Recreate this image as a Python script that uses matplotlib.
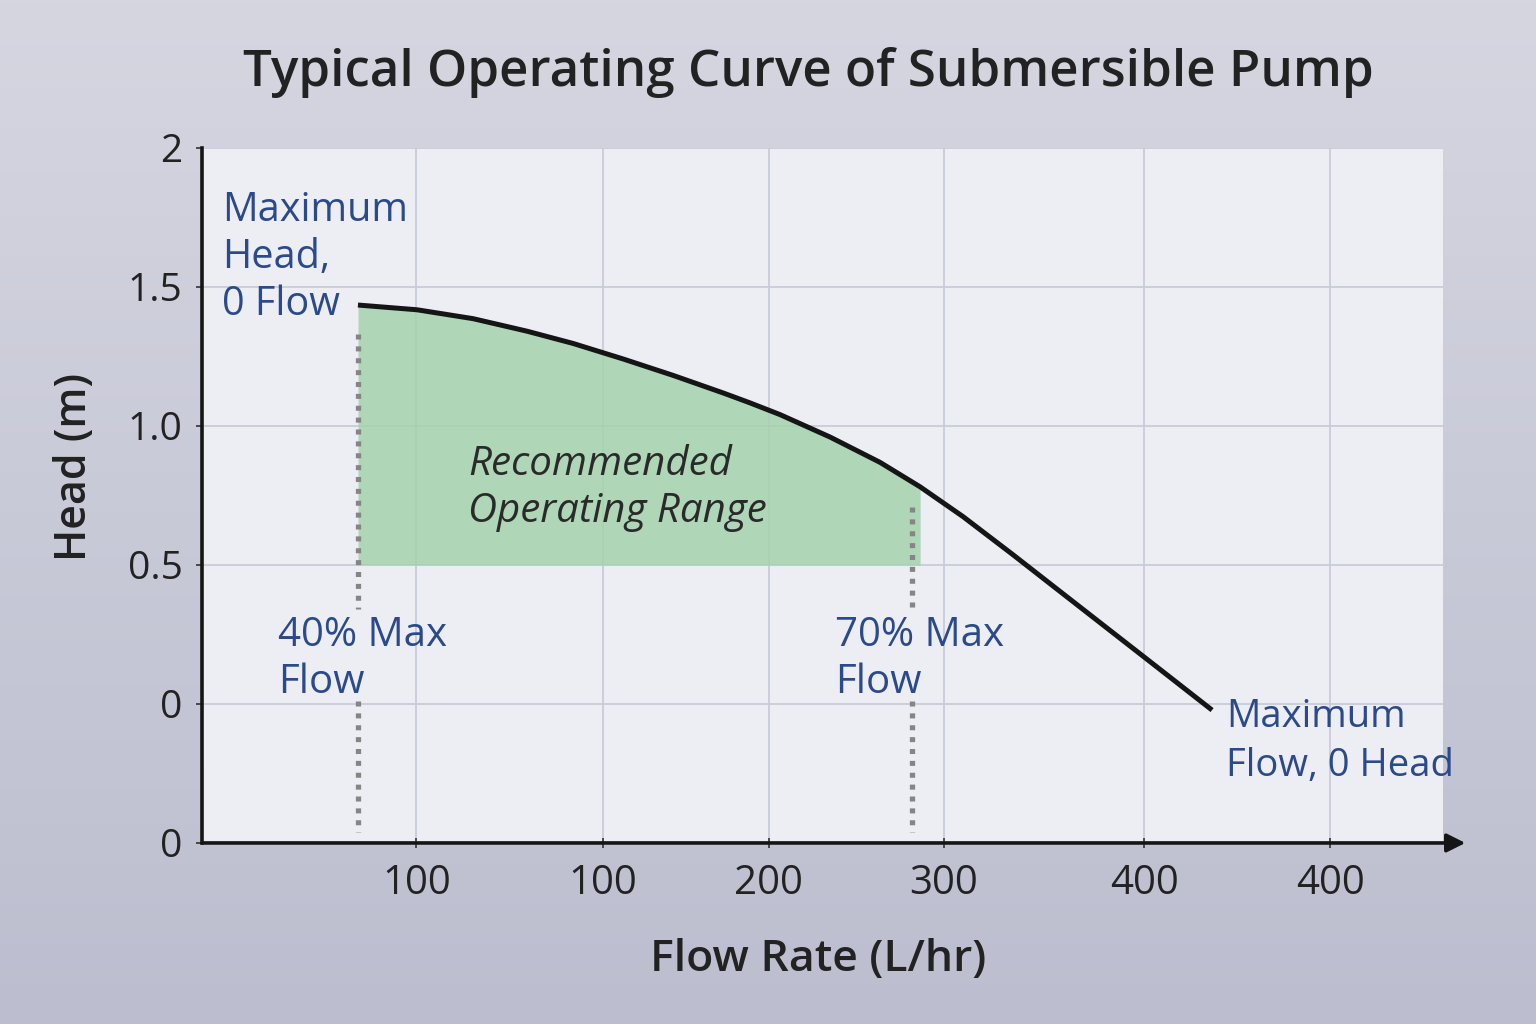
import numpy as np
import matplotlib
matplotlib.use("Agg")
import matplotlib.pyplot as plt

plt.rcParams['font.family'] = ['Open Sans', 'DejaVu Sans']

# chart values (x in the axis' own flow units)
flow_pts = [55.3, 76.2, 96.1, 115.2, 131.5, 149.3, 167.0, 184.7, 194.3, 204.9,
            222.7, 240.4, 254.6, 269.8, 287.5, 305.3, 323.0, 340.7, 358.1]
head_pts = [1.435, 1.418, 1.386, 1.341, 1.297, 1.241, 1.182, 1.119, 1.083, 1.041,
            0.960, 0.869, 0.781, 0.674, 0.537, 0.396, 0.256, 0.116, -0.022]

x_tick_pos = [76, 142, 201, 263, 334, 400]
x_tick_labels = ['100', '100', '200', '300', '400', '400']
y_tick_pos = [-0.5, 0.0, 0.5, 1.0, 1.5, 2.0]
y_tick_labels = ['0', '0', '0.5', '1.0', '1.5', '2']

range_start = 55.3     # 40% max flow
range_end = 251.6      # 70% max flow
range_floor = 0.5

blue = '#2b4a8b'
dark = '#222222'

fig = plt.figure(figsize=(15.36, 10.24), dpi=100)

# background wash
bg = fig.add_axes([0, 0, 1, 1], zorder=-10)
grad = np.linspace(0, 1, 256).reshape(-1, 1)
top_c = np.array([214, 214, 225]) / 255.0
bot_c = np.array([188, 190, 207]) / 255.0
img = top_c[None, None, :] * (1 - grad[:, :, None]) + bot_c[None, None, :] * grad[:, :, None]
bg.imshow(img, aspect='auto', extent=[0, 1, 0, 1])
bg.axis('off')

ax = fig.add_axes([0.1315, 0.1768, 0.808, 0.6787])
ax.set_facecolor('#eceef4')
ax.set_xlim(0, 440)
ax.set_ylim(-0.5, 2.0)

# grid
for xp in x_tick_pos:
    ax.axvline(xp, color='#c8ccd9', lw=1.3, zorder=1)
for yp in y_tick_pos[1:]:
    ax.axhline(yp, color='#c8ccd9', lw=1.3, zorder=1)

# recommended range
n_fill = sum(1 for f in flow_pts if f <= range_end + 4)
ax.fill_between(flow_pts[:n_fill], range_floor, head_pts[:n_fill],
                color='#a3d2ad', alpha=0.85, lw=0, zorder=2)

# dotted markers (broken where the labels sit)
dot_style = dict(color='#858585', lw=3.8, linestyle=(0, (0.95, 1.3)), zorder=3)
ax.plot([range_start, range_start], [1.33, 0.34], **dot_style)
ax.plot([range_start, range_start], [0.01, -0.46], **dot_style)
ax.plot([range_end, range_end], [0.71, 0.33], **dot_style)
ax.plot([range_end, range_end], [0.01, -0.46], **dot_style)

# pump curve
ax.plot(flow_pts, head_pts, color='#151515', lw=3.6, solid_capstyle='butt',
        solid_joinstyle='round', zorder=4)

# axes styling
for s in ['top', 'right', 'bottom']:
    ax.spines[s].set_visible(False)
ax.spines['left'].set_linewidth(2.6)
ax.spines['left'].set_color('#151515')
ax.annotate('', xy=(1.018, 0), xytext=(0, 0), xycoords='axes fraction',
            arrowprops=dict(arrowstyle='-|>', color='#151515', lw=2.6,
                            mutation_scale=28, shrinkA=0, shrinkB=0),
            annotation_clip=False)

ax.set_xticks(x_tick_pos)
ax.set_xticklabels(x_tick_labels)
ax.set_yticks(y_tick_pos)
ax.set_yticklabels(y_tick_labels)
ax.tick_params(axis='x', direction='inout', length=7, width=1.2, color='#333333',
               pad=11, labelsize=29, labelcolor=dark)
ax.tick_params(axis='y', direction='out', length=4, width=1.2, color='#333333',
               pad=10, labelsize=28, labelcolor=dark)

# annotations
ax.text(7.1, 1.605, 'Maximum\nHead,\n0 Flow', color=blue, fontsize=28.5,
        ha='left', va='center', linespacing=1.2, zorder=5)
ax.text(94.3, 0.775, 'Recommended\nOperating Range', color='#2a2a2a', fontsize=29,
        style='italic', ha='left', va='center', linespacing=1.2, zorder=5)
ax.text(26.9, 0.162, '40% Max\nFlow', color=blue, fontsize=29,
        ha='left', va='center', linespacing=1.22, zorder=5)
ax.text(224.4, 0.162, '70% Max\nFlow', color=blue, fontsize=29,
        ha='left', va='center', linespacing=1.22, zorder=5)
ax.text(363.1, -0.135, 'Maximum\nFlow, 0 Head', color=blue, fontsize=27.5,
        ha='left', va='center', linespacing=1.38, zorder=5)

fig.text(0.526, 0.929, 'Typical Operating Curve of Submersible Pump',
         ha='center', va='center', fontsize=36.8, fontweight='semibold', color=dark)
fig.text(0.5326, 0.0625, 'Flow Rate (L/hr)', ha='center', va='center',
         fontsize=32, fontweight='semibold', color=dark)
fig.text(0.0488, 0.544, 'Head (m)', ha='center', va='center', rotation=90,
         fontsize=31, fontweight='semibold', color=dark)

fig.savefig('out.png', dpi=100)
